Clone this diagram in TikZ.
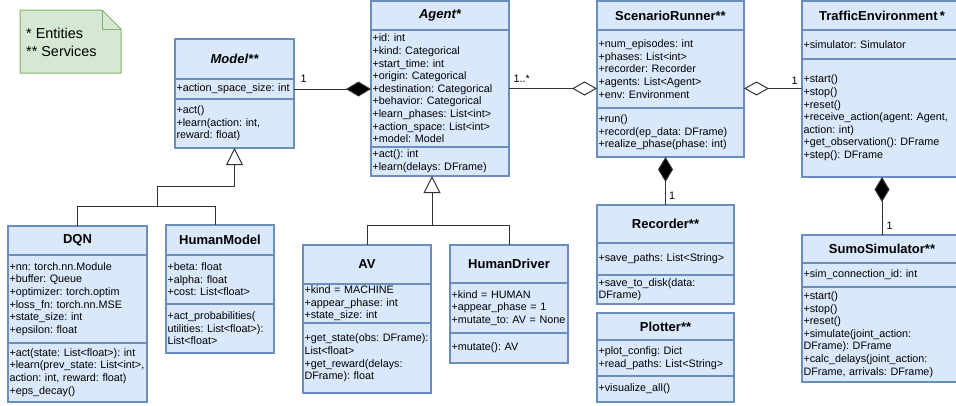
\documentclass[tikz,border=0pt]{standalone}
\usepackage{fontspec}
\setmainfont{Liberation Sans}
\usetikzlibrary{positioning,arrows.meta}
\definecolor{clsfill}{HTML}{DAE8FC}
\definecolor{clsline}{HTML}{6C8EBF}
\definecolor{notefill}{HTML}{D5E8D4}
\definecolor{noteline}{HTML}{82B366}
\tikzset{
  clshead/.style={draw=clsline, fill=clsfill, line width=1.5pt, outer sep=0pt, inner xsep=1.5pt, inner ysep=0pt,
    anchor=north west, text width=#1, align=center, font=\fontsize{13}{15}\selectfont\bfseries},
  clssec/.style={draw=clsline, fill=clsfill, line width=1.5pt, outer sep=0pt, inner xsep=1.5pt, inner ysep=0pt,
    text width=#1, align=left, font=\fontsize{10.8}{12.6}\selectfont\frenchspacing},
  conn/.style={draw=black!80, line width=1pt},
  comp/.style={conn, -{Diamond[fill=black, length=25pt, width=15pt]}},
  aggr/.style={conn, -{Diamond[fill=white, length=25pt, width=14pt]}},
  gen/.style={conn, -{Triangle[fill=white, length=17pt, width=17pt]}},
  mult/.style={inner sep=1pt, font=\fontsize{10.8}{12.6}\selectfont}
}

\begin{document}
\begin{tikzpicture}[x=1pt, y=-1pt]
  \useasboundingbox (0,0) rectangle (956,405);

  % legend note
  \filldraw[fill=notefill, draw=noteline, line width=1pt] (20,10) -- (102,10) -- (121,29) -- (121,73) -- (20,73) -- cycle;
  \draw[draw=noteline, line width=1pt] (102,10) -- (102,29) -- (121,29);
  \node[anchor=west, align=left, inner sep=2pt, font=\fontsize{14.4}{18}\selectfont\frenchspacing] (legend) at (24,42) {* Entities\\** Services};

  \node[clshead=116, minimum height=40] (modelhead) at (175,39) {\itshape Model**};
  \node[clssec=116, minimum height=20, below=0pt of modelhead] (modelattr) {+action\_space\_size: int};
  \node[clssec=116, minimum height=49, below=0pt of modelattr] (modelmeth) {+act()\\+learn(action: int,\\reward: float)};

  \node[clshead=135, minimum height=29] (agenthead) at (371,1) {\itshape Agent*};
  \node[clssec=135, minimum height=117, below=0pt of agenthead] (agentattr) {+id: int\\+kind: Categorical\\+start\_time: int\\+origin: Categorical\\+destination: Categorical\\+behavior: Categorical\\+learn\_phases: List<int>\\+action\_space: List<int>\\+model: Model};
  \node[clssec=135, minimum height=29, below=0pt of agentattr] (agentmeth) {+act(): int\\+learn(delays: DFrame)};

  \node[clshead=144, minimum height=29] (srhead) at (597,1) {ScenarioRunner**};
  \node[clssec=144, minimum height=78, below=0pt of srhead] (srattr) {+num\_episodes: int\\+phases: List<int>\\+recorder: Recorder\\+agents: List<Agent>\\+env: Environment};
  \node[clssec=144, minimum height=49, below=0pt of srattr] (srmeth) {+run()\\+record(ep\_data: DFrame)\\+realize\_phase(phase: int)};

  \node[clshead=157, minimum height=29] (tehead) at (802,1) {TrafficEnvironment\,*};
  \node[clssec=157, minimum height=29, below=0pt of tehead] (teattr) {+simulator: Simulator};
  \node[clssec=157, minimum height=118, below=0pt of teattr] (temeth) {+start()\\+stop()\\+reset()\\+receive\_action(agent: Agent,\\action: int)\\+get\_observation(): DFrame\\+step(): DFrame};

  \node[clshead=134, minimum height=38] (rechead) at (597,205) {Recorder**};
  \node[clssec=134, minimum height=32, below=0pt of rechead] (recattr) {+save\_paths: List<String>};
  \node[clssec=134, minimum height=29, below=0pt of recattr] (recmeth) {+save\_to\_disk(data:\\DFrame)};

  \node[clshead=134, minimum height=27] (plothead) at (597,313) {Plotter**};
  \node[clssec=134, minimum height=36, below=0pt of plothead] (plotattr) {+plot\_config: Dict\\+read\_paths: List<String>};
  \node[clssec=134, minimum height=26, below=0pt of plotattr] (plotmeth) {+visualize\_all()};

  \node[clshead=157, minimum height=28] (sumohead) at (802,235) {SumoSimulator**};
  \node[clssec=157, minimum height=24, below=0pt of sumohead] (sumoattr) {+sim\_connection\_id: int};
  \node[clssec=157, minimum height=95, below=0pt of sumoattr] (sumometh) {+start()\\+stop()\\+reset()\\+simulate(joint\_action:\\DFrame): DFrame\\+calc\_delays(joint\_action:\\DFrame, arrivals: DFrame)};

  \node[clshead=136, minimum height=29] (dqnhead) at (8,226) {DQN};
  \node[clssec=136, minimum height=88, below=0pt of dqnhead] (dqnattr) {+nn: torch.nn.Module\\+buffer: Queue\\+optimizer: torch.optim\\+loss\_fn: torch.nn.MSE\\+state\_size: int\\+epsilon: float};
  \node[clssec=136, minimum height=59, below=0pt of dqnattr] (dqnmeth) {+act(state: List<float>): int\\+learn(prev\_state: List<int>,\\action: int, reward: float)\\+eps\_decay()};

  \node[clshead=105, minimum height=30] (hmhead) at (166,225) {HumanModel};
  \node[clssec=105, minimum height=49, below=0pt of hmhead] (hmattr) {+beta: float\\+alpha: float\\+cost: List<float>};
  \node[clssec=105, minimum height=49, below=0pt of hmattr] (hmmeth) {+act\_probabilities(\\utilities: List<float>):\\List<float>};

  \node[clshead=125, minimum height=39] (avhead) at (303,245) {AV};
  \node[clssec=125, minimum height=39, below=0pt of avhead] (avattr) {+kind = MACHINE\\+appear\_phase: int\\+state\_size: int};
  \node[clssec=125, minimum height=70, below=0pt of avattr] (avmeth) {+get\_state(obs: DFrame):\\List<float>\\+get\_reward(delays:\\DFrame): float};

  \node[clshead=115, minimum height=38] (hdhead) at (450,245) {HumanDriver};
  \node[clssec=115, minimum height=50, below=0pt of hdhead] (hdattr) {+kind = HUMAN\\+appear\_phase = 1\\+mutate\_to: AV = None};
  \node[clssec=115, minimum height=30, below=0pt of hdattr] (hdmeth) {+mutate(): AV};

  % associations
  \draw[comp] (modelattr.east) -- node[mult, pos=0, anchor=south west, xshift=5pt, yshift=5pt] (m1) {1} (modelattr.east -| agentattr.west);
  \draw[aggr] (agentattr.east) -- node[mult, pos=0, anchor=south west, xshift=3pt, yshift=5pt] (m2) {1..*} (agentattr.east -| srattr.west);
  \draw[aggr] (agentattr.east -| temeth.west) -- node[mult, pos=0, anchor=south east, xshift=-3pt, yshift=3pt] (m3) {1} (agentattr.east -| srattr.east);
  \draw[comp] (rechead.north) -- node[mult, pos=0, anchor=south west, xshift=2pt, yshift=4pt] (m4) {1} (rechead.north |- srmeth.south);
  \draw[comp] (sumohead.north) -- node[mult, pos=0, anchor=south west, xshift=3pt, yshift=4pt] (m5) {1} (temeth.south);

  % inheritance
  \coordinate (modelfork) at (157,206);
  \coordinate (modelbend) at (234.5,186);
  \draw[gen] (dqnhead.north) |- (modelfork) |- (modelbend) -- (modelmeth.south);
  \draw[conn] ([xshift=-5pt]hmhead.north) |- (modelfork);
  \coordinate (agentfork) at (432,225);
  \draw[gen] (avhead.north) |- (agentfork) -- (agentfork |- agentmeth.south);
  \draw[conn] (hdhead.north) |- (agentfork);
\end{tikzpicture}
\end{document}
